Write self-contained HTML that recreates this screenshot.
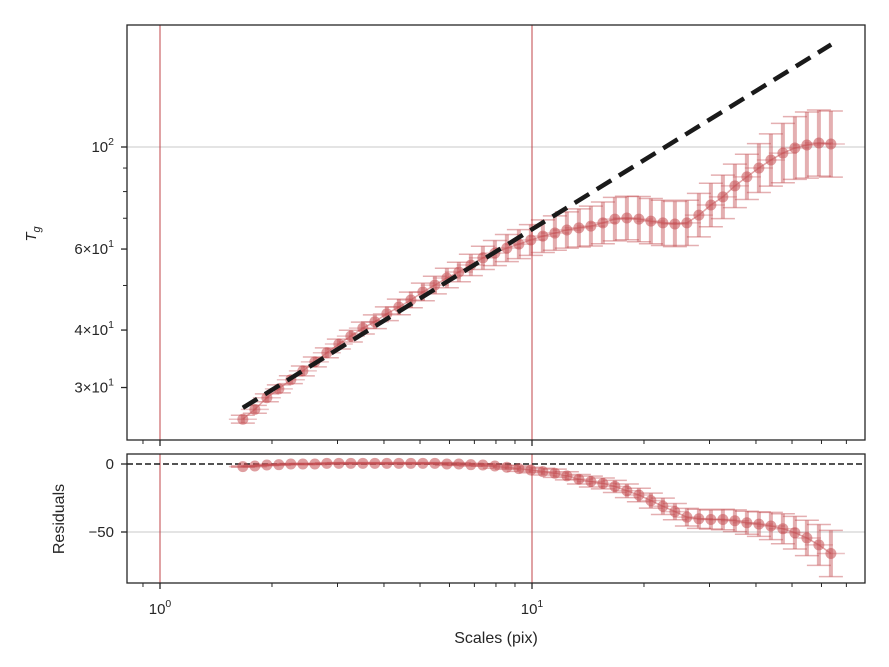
<!DOCTYPE html>
<html><head><meta charset="utf-8"><style>
body{margin:0;background:#fff}
svg{display:block;font-family:"Liberation Sans","DejaVu Sans",sans-serif;fill:#262626}
</style></head><body>
<svg id="chart" width="889" height="667" viewBox="0 0 889 667" xmlns="http://www.w3.org/2000/svg">
<rect width="889" height="667" fill="#fff"/>
<g id="topPanel"></g>
<g id="botPanel"></g>
<text transform="translate(36,234) rotate(-90)" text-anchor="middle" font-size="15" font-style="italic">T<tspan font-size="11" dy="4">g</tspan></text>
<text transform="translate(64,519) rotate(-90)" text-anchor="middle" font-size="16">Residuals</text>
<text x="496" y="643" text-anchor="middle" font-size="16">Scales (pix)</text>
</svg>
<script>
const scaleStart = 1.67;
const logStep = 0.03226;
const tgValues = [25.6,26.9,28.5,29.8,31.2,32.6,34.1,35.7,37.3,38.8,40.4,41.7,43.4,44.9,46.5,48.4,50.1,51.9,53.5,55.4,57.4,58.8,60.3,61.5,
62.8,64.0,65.0,66.0,66.7,67.3,68.4,69.7,70.1,69.7,69.0,68.4,68.0,68.4,71.1,74.8,77.9,82.3,86.1,90.0,93.7,97.0,99.5,101.0,102.0,101.5];
const tgErrPct = [2,2,2,2,2,2.5,2.5,2.5,2.5,3,3,3.5,3.5,4,4,4.5,4.5,5,5,5.5,6,6.5,7,7.5,
8,8.5,9,9.5,10,10.5,11,11.5,11.5,12,12,12,12,12,11.5,11.5,11.5,11.5,12,13,14,16,17,18,18,18];
const residuals = [-1.9,-1.5,-0.7,-0.5,0,0,0,0.5,0.5,0.5,0.5,0.5,0.5,0.5,0.5,0.5,0.5,0,0,-0.5,-0.7,-1.5,-2.4,-3.4,
-4.4,-5.6,-6.8,-8.7,-11.2,-12.9,-14.3,-16.5,-19.7,-22.8,-26.9,-31.1,-35,-39.1,-40.3,-40.8,-40.8,-41.7,-43.2,-44.2,-45.6,-47.6,-50.5,-54.4,-59.5,-65.8];
const resErr = [0.5,0.5,0.5,0.5,0.5,0.5,0.5,0.5,0.5,0.5,0.5,0.5,0.5,0.5,0.5,0.5,0.5,1,1,1,1,1.5,1.5,2,
2,2.5,3,3,3.5,4,4,4.5,5,5,5.5,6,6,6.5,7,7,7.5,8,8.5,9,10,11,12,13,15,17];
const modelScales = [1.67, 63.7];
const modelValues = [27.1, 167];
const yTopMajor = [30,40,60,100];
const yTopMajorLabels = [["3\u00d710","1"],["4\u00d710","1"],["6\u00d710","1"],["10","2"]];
const yTopMinor = [50,70,80,90];
const yBotTicks = [0,-50];
const xMajor = [1,10];
const xMajorLabels = [["10","0"],["10","1"]];
const xMinor = [0.9,2,3,4,5,6,7,8,9,20,30,40,50,60,70];

const NS="http://www.w3.org/2000/svg";
const X0=127,X1=865, TY0=25,TY1=440, BY0=454,BY1=583;
const xs=v=>160+372*Math.log10(v);
const yt=v=>147-460*(Math.log10(v)-2);
const yb=v=>464-v*68/50;
const RED="#c44e52";
function mk(parent,tag,attrs){const e=document.createElementNS(NS,tag);for(const k in attrs)e.setAttribute(k,attrs[k]);parent.appendChild(e);return e;}
const topG=document.getElementById('topPanel'), botG=document.getElementById('botPanel');
const scales=tgValues.map((_,i)=>Math.pow(10,Math.log10(scaleStart)+i*logStep));

let g=mk(topG,'line',{x1:X0,x2:X1,y1:yt(100),y2:yt(100),stroke:'#d3d3d3','stroke-width':1.2});


g=mk(botG,'line',{x1:X0,x2:X1,y1:yb(-50),y2:yb(-50),stroke:'#d3d3d3','stroke-width':1.2});


[[topG,TY0,TY1],[botG,BY0,BY1]].forEach(([p,a,b])=>xMajor.forEach(v=>{
 const l=mk(p,'line',{x1:xs(v),x2:xs(v),y1:a,y2:b,stroke:RED,'stroke-opacity':0.7,'stroke-width':1.5});
 
 
}));

function series(p,yf,vals,errLo,errHi,name){
 const hw=12;
 const grp=mk(p,'g',{});
 
 
 vals.forEach((v,i)=>{
  const x=xs(scales[i]),y=yf(v),ya=yf(errHi(i)),yb2=yf(errLo(i));
  mk(grp,'line',{x1:x,x2:x,y1:ya,y2:yb2,stroke:RED,'stroke-opacity':0.45,'stroke-width':4});
  mk(grp,'line',{x1:x-hw,x2:x+hw,y1:ya,y2:ya,stroke:RED,'stroke-opacity':0.45,'stroke-width':1.5});
  mk(grp,'line',{x1:x-hw,x2:x+hw,y1:yb2,y2:yb2,stroke:RED,'stroke-opacity':0.45,'stroke-width':1.5});
  mk(grp,'line',{x1:x-14,x2:x+14,y1:y,y2:y,stroke:RED,'stroke-opacity':0.35,'stroke-width':1.5});
 });
 mk(grp,'polyline',{points:vals.map((v,i)=>xs(scales[i])+','+yf(v)).join(' '),fill:'none',stroke:RED,'stroke-opacity':0.5,'stroke-width':1.5});
 vals.forEach((v,i)=>{
  const c=mk(grp,'circle',{cx:xs(scales[i]),cy:yf(v),r:5.5,fill:RED,'fill-opacity':0.55});
  
  
 });
}
series(topG,yt,tgValues,i=>tgValues[i]/(1+tgErrPct[i]/100),i=>tgValues[i]*(1+tgErrPct[i]/100),'tg-series');
const ml=mk(topG,'line',{x1:xs(modelScales[0]),y1:yt(modelValues[0]),x2:xs(modelScales[1]),y2:yt(modelValues[1]),stroke:'#1a1a1a','stroke-width':4.5,'stroke-dasharray':'17,9'});


const zl=mk(botG,'line',{x1:X0,x2:X1,y1:yb(0),y2:yb(0),stroke:'#1a1a1a','stroke-width':1.5,'stroke-dasharray':'6,3'});


series(botG,yb,residuals,i=>residuals[i]-resErr[i],i=>residuals[i]+resErr[i],'residual-series');

[[topG,TY0,TY1],[botG,BY0,BY1]].forEach(([p,a,b])=>{
 const r=mk(p,'rect',{x:X0,y:a,width:X1-X0,height:b-a,fill:'none',stroke:'#262626','stroke-width':1.3});
 
 
 xMajor.forEach(v=>mk(p,'line',{x1:xs(v),x2:xs(v),y1:b,y2:b+6,stroke:'#262626','stroke-width':1.3}));
 xMinor.forEach(v=>mk(p,'line',{x1:xs(v),x2:xs(v),y1:b,y2:b+4,stroke:'#262626','stroke-width':1}));
});
function supLabel(p,x,y,parts,anchor,name){
 const t=mk(p,'text',{x:x,y:y,'text-anchor':anchor,'font-size':15});
 
 
 t.appendChild(document.createTextNode(parts[0]));
 const s=mk(t,'tspan',{dy:-7,'font-size':10.5});s.textContent=parts[1];
}
yTopMajor.forEach((v,i)=>{
 mk(topG,'line',{x1:X0-6,x2:X0,y1:yt(v),y2:yt(v),stroke:'#262626','stroke-width':1.3});
 supLabel(topG,X0-13,yt(v)+5,yTopMajorLabels[i],'end','y-tick-label');
});
yTopMinor.forEach(v=>mk(topG,'line',{x1:X0-4,x2:X0,y1:yt(v),y2:yt(v),stroke:'#262626','stroke-width':1}));
yBotTicks.forEach(v=>{
 mk(botG,'line',{x1:X0-6,x2:X0,y1:yb(v),y2:yb(v),stroke:'#262626','stroke-width':1.3});
 const t=mk(botG,'text',{x:X0-13,y:yb(v)+5,'text-anchor':'end','font-size':15});
 
 
 t.textContent=v<0?'\u2212'+Math.abs(v):String(v);
});
xMajor.forEach((v,i)=>supLabel(botG,xs(v),614,xMajorLabels[i],'middle','x-tick-label'));
</script>
</body></html>
